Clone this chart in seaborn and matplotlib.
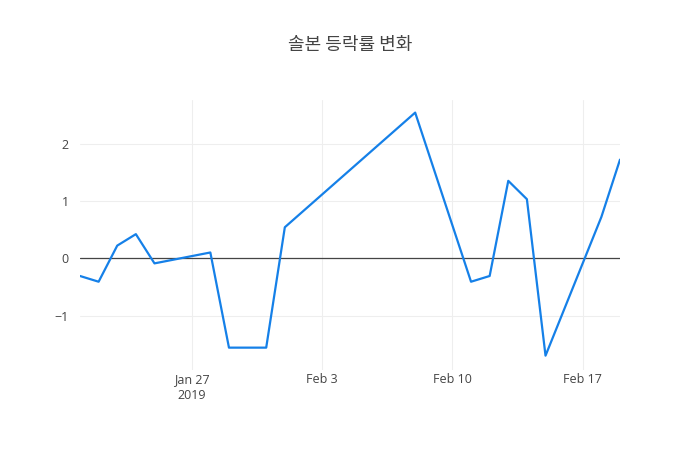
import pandas as pd
import matplotlib
matplotlib.use('Agg')
import matplotlib.pyplot as plt
import seaborn as sns

# 솔본 daily change (%)
dates = ['2019-01-21', '2019-01-22', '2019-01-23', '2019-01-24', '2019-01-25',
         '2019-01-28', '2019-01-29', '2019-01-31', '2019-02-01', '2019-02-08',
         '2019-02-11', '2019-02-12', '2019-02-13', '2019-02-14', '2019-02-15',
         '2019-02-18', '2019-02-19']
change = [-0.31, -0.41, 0.22, 0.42, -0.09,
          0.10, -1.56, -1.56, 0.54, 2.54,
          -0.41, -0.31, 1.35, 1.03, -1.70,
          0.72, 1.72]
tick_dates = ['2019-01-27', '2019-02-03', '2019-02-10', '2019-02-17']
tick_labels = ['Jan 27\n2019', 'Feb 3', 'Feb 10', 'Feb 17']
y_ticks = [-1, 0, 1, 2]

df = pd.DataFrame({'date': pd.to_datetime(dates), 'change': change})

sns.set_style('white')
plt.rcParams['font.family'] = ['Open Sans', 'Noto Sans CJK KR', 'DejaVu Sans']

fig = plt.figure(figsize=(7, 4.5), dpi=100)
ax = fig.add_axes([80/700, 80/450, 540/700, 270/450])

sns.lineplot(data=df, x='date', y='change', color='#1580E8', linewidth=1.6, ax=ax)

ax.set_xlim(df['date'].min(), df['date'].max())
ax.set_ylim(-1.95, 2.76)
ax.set_xticks(pd.to_datetime(tick_dates))
ax.set_xticklabels(tick_labels, linespacing=1.3)
ax.set_yticks(y_ticks)
ax.set_yticklabels(['\u22121', '0', '1', '2'])

ax.grid(True, color='#eeeeee', linewidth=0.75)
ax.set_axisbelow(True)
ax.axhline(0, color='#444444', linewidth=0.9, zorder=1)
for s in ax.spines.values():
    s.set_visible(False)
ax.tick_params(axis='both', length=0, labelsize=9, colors='#444444')
ax.tick_params(axis='x', pad=2)
ax.tick_params(axis='y', pad=8)
ax.set_xlabel('')
ax.set_ylabel('')

fig.text(0.5, 0.9, '솔본 등락률 변화', ha='center', va='center', fontsize=13,
         color='#444444', family=['Noto Sans CJK KR', 'DejaVu Sans'])

fig.savefig('out.png', dpi=100)
